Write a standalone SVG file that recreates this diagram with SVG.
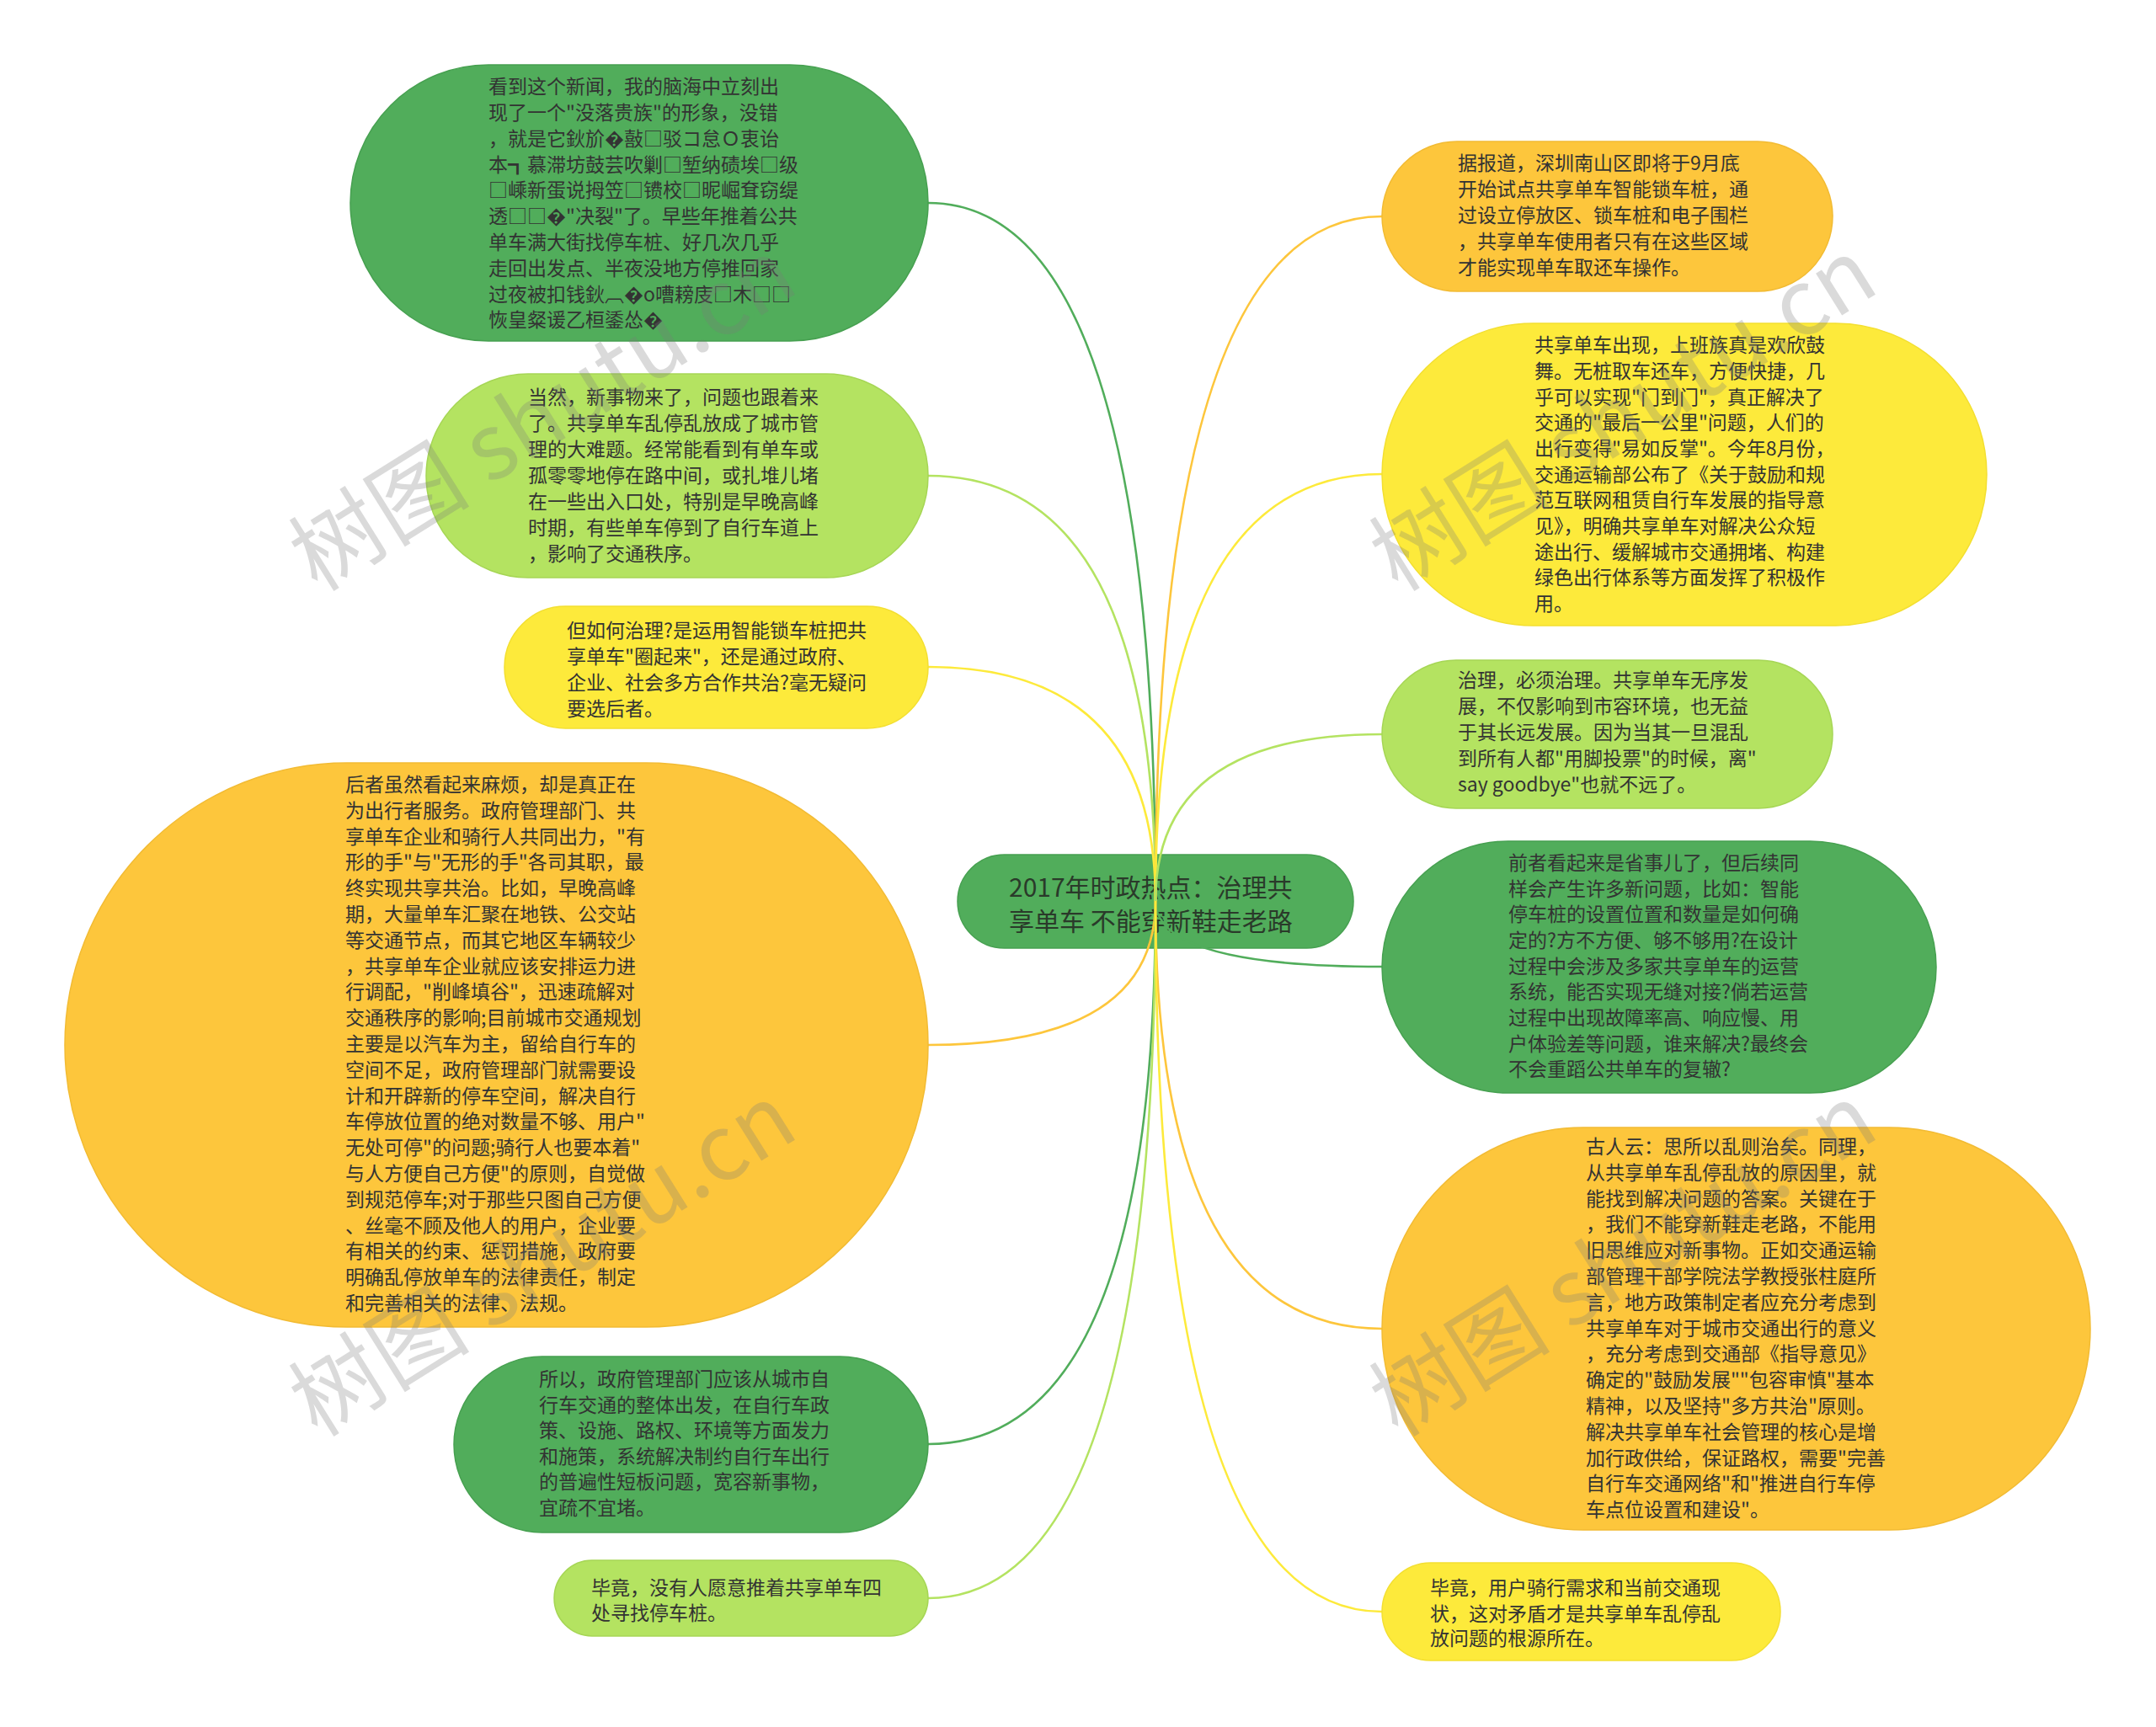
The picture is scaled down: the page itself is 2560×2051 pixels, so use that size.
<svg xmlns="http://www.w3.org/2000/svg" width="2560" height="2051" viewBox="0 0 2560 2051">
<style>
.t{font-family:"Noto Sans CJK SC","Noto Sans",sans-serif;font-size:23px;fill:#333333}
.ct{font-family:"Noto Sans CJK SC","Noto Sans",sans-serif;font-size:30px;fill:#2a3a2a}
.dg{fill:#51ad5b;stroke:#46a050;stroke-width:1.5}
.lg{fill:#b4e361;stroke:#a6d655;stroke-width:1.5}
.yl{fill:#fdea3b;stroke:#f3df30;stroke-width:1.5}
.or{fill:#fdc63c;stroke:#f2bb33;stroke-width:1.5}
.c{fill:none;stroke-width:2.6}
.wm{font-family:"Noto Sans CJK SC","Noto Sans",sans-serif;font-size:108px;fill:#7a7a7a;fill-opacity:0.28}
</style>
<rect width="2560" height="2051" fill="#ffffff"/>
<g id="center">
<rect class="dg" x="1137" y="1015" width="470" height="111" rx="55.5"/>
<text class="ct" x="1198" y="1065">2017年时政热点：治理共</text>
<text class="ct" x="1198" y="1105">享单车 不能穿新鞋走老路</text>
</g>
<g id="connectors">
<path class="c" stroke="#51ad5b" d="M1372 1070 Q1372 241 1102 241"/>
<path class="c" stroke="#b4e361" d="M1372 1070 Q1372 565 1102 565"/>
<path class="c" stroke="#fdea3b" d="M1372 1070 Q1372 792 1102 792"/>
<path class="c" stroke="#fdc63c" d="M1372 1070 Q1372 1241 1102 1241"/>
<path class="c" stroke="#51ad5b" d="M1372 1070 Q1372 1715 1102 1715"/>
<path class="c" stroke="#b4e361" d="M1372 1070 Q1372 1898 1102 1898"/>
<path class="c" stroke="#fdc63c" d="M1372 1070 Q1372 257 1641 257"/>
<path class="c" stroke="#fdea3b" d="M1372 1070 Q1372 563 1641 563"/>
<path class="c" stroke="#b4e361" d="M1372 1070 Q1372 872 1641 872"/>
<path class="c" stroke="#51ad5b" d="M1372 1070 Q1372 1148 1641 1148"/>
<path class="c" stroke="#fdc63c" d="M1372 1070 Q1372 1578 1641 1578"/>
<path class="c" stroke="#fdea3b" d="M1372 1070 Q1372 1914 1641 1914"/>
</g>
<g id="node-l1">
<rect class="dg" x="416" y="77" width="686" height="328" rx="164"/>
<text class="t" x="580" y="111">看到这个新闻，我的脑海中立刻出</text>
<text class="t" x="580" y="142">现了一个"没落贵族"的形象，没错</text>
<text class="t" x="580" y="173">，就是它鈥斺�敼□驳コ怠Ｏ衷诒</text>
<text class="t" x="580" y="204">本┓慕滞坊鼓芸吹剿□堑纳碛埃□级</text>
<text class="t" x="580" y="234">□嵊新蛋说拇笠□镄校□昵崛耷窃缇</text>
<text class="t" x="580" y="265">透□□�"决裂"了。早些年推着公共</text>
<text class="t" x="580" y="296">单车满大街找停车桩、好几次几乎</text>
<text class="t" x="580" y="327">走回出发点、半夜没地方停推回家</text>
<text class="t" x="580" y="358">过夜被扣钱鈥︹�o嘈耪庋□木□□</text>
<text class="t" x="580" y="388">恢皇粲谖乙桓鋈怂�</text>
</g>
<g id="node-l2">
<rect class="lg" x="506" y="444" width="596" height="242" rx="121"/>
<text class="t" x="627" y="480">当然，新事物来了，问题也跟着来</text>
<text class="t" x="627" y="511">了。共享单车乱停乱放成了城市管</text>
<text class="t" x="627" y="542">理的大难题。经常能看到有单车或</text>
<text class="t" x="627" y="573">孤零零地停在路中间，或扎堆儿堵</text>
<text class="t" x="627" y="604">在一些出入口处，特别是早晚高峰</text>
<text class="t" x="627" y="635">时期，有些单车停到了自行车道上</text>
<text class="t" x="627" y="666">，影响了交通秩序。</text>
</g>
<g id="node-l3">
<rect class="yl" x="599" y="720" width="503" height="145" rx="72.5"/>
<text class="t" x="673" y="757">但如何治理?是运用智能锁车桩把共</text>
<text class="t" x="673" y="788">享单车"圈起来"，还是通过政府、</text>
<text class="t" x="673" y="819">企业、社会多方合作共治?毫无疑问</text>
<text class="t" x="673" y="850">要选后者。</text>
</g>
<g id="node-l4">
<rect class="or" x="77" y="906" width="1025" height="670" rx="335"/>
<text class="t" x="410" y="940">后者虽然看起来麻烦，却是真正在</text>
<text class="t" x="410" y="971">为出行者服务。政府管理部门、共</text>
<text class="t" x="410" y="1002">享单车企业和骑行人共同出力，"有</text>
<text class="t" x="410" y="1032">形的手"与"无形的手"各司其职，最</text>
<text class="t" x="410" y="1063">终实现共享共治。比如，早晚高峰</text>
<text class="t" x="410" y="1094">期，大量单车汇聚在地铁、公交站</text>
<text class="t" x="410" y="1125">等交通节点，而其它地区车辆较少</text>
<text class="t" x="410" y="1156">，共享单车企业就应该安排运力进</text>
<text class="t" x="410" y="1186">行调配，"削峰填谷"，迅速疏解对</text>
<text class="t" x="410" y="1217">交通秩序的影响;目前城市交通规划</text>
<text class="t" x="410" y="1248">主要是以汽车为主，留给自行车的</text>
<text class="t" x="410" y="1279">空间不足，政府管理部门就需要设</text>
<text class="t" x="410" y="1310">计和开辟新的停车空间，解决自行</text>
<text class="t" x="410" y="1340">车停放位置的绝对数量不够、用户"</text>
<text class="t" x="410" y="1371">无处可停"的问题;骑行人也要本着"</text>
<text class="t" x="410" y="1402">与人方便自己方便"的原则，自觉做</text>
<text class="t" x="410" y="1433">到规范停车;对于那些只图自己方便</text>
<text class="t" x="410" y="1464">、丝毫不顾及他人的用户，企业要</text>
<text class="t" x="410" y="1494">有相关的约束、惩罚措施，政府要</text>
<text class="t" x="410" y="1525">明确乱停放单车的法律责任，制定</text>
<text class="t" x="410" y="1556">和完善相关的法律、法规。</text>
</g>
<g id="node-l5">
<rect class="dg" x="539" y="1611" width="563" height="209" rx="104.5"/>
<text class="t" x="640" y="1646">所以，政府管理部门应该从城市自</text>
<text class="t" x="640" y="1677">行车交通的整体出发，在自行车政</text>
<text class="t" x="640" y="1707">策、设施、路权、环境等方面发力</text>
<text class="t" x="640" y="1738">和施策，系统解决制约自行车出行</text>
<text class="t" x="640" y="1768">的普遍性短板问题，宽容新事物，</text>
<text class="t" x="640" y="1799">宜疏不宜堵。</text>
</g>
<g id="node-l6">
<rect class="lg" x="658" y="1853" width="444" height="90" rx="45"/>
<text class="t" x="702" y="1894">毕竟，没有人愿意推着共享单车四</text>
<text class="t" x="702" y="1924">处寻找停车桩。</text>
</g>
<g id="node-r1">
<rect class="or" x="1641" y="168" width="535" height="178" rx="89"/>
<text class="t" x="1731" y="202">据报道，深圳南山区即将于9月底</text>
<text class="t" x="1731" y="233">开始试点共享单车智能锁车桩，通</text>
<text class="t" x="1731" y="264">过设立停放区、锁车桩和电子围栏</text>
<text class="t" x="1731" y="295">，共享单车使用者只有在这些区域</text>
<text class="t" x="1731" y="326">才能实现单车取还车操作。</text>
</g>
<g id="node-r2">
<rect class="yl" x="1641" y="384" width="718" height="359" rx="179.5"/>
<text class="t" x="1822" y="418">共享单车出现，上班族真是欢欣鼓</text>
<text class="t" x="1822" y="449">舞。无桩取车还车，方便快捷，几</text>
<text class="t" x="1822" y="480">乎可以实现"门到门"，真正解决了</text>
<text class="t" x="1822" y="510">交通的"最后一公里"问题，人们的</text>
<text class="t" x="1822" y="541">出行变得"易如反掌"。今年8月份，</text>
<text class="t" x="1822" y="572">交通运输部公布了《关于鼓励和规</text>
<text class="t" x="1822" y="602">范互联网租赁自行车发展的指导意</text>
<text class="t" x="1822" y="633">见》，明确共享单车对解决公众短</text>
<text class="t" x="1822" y="664">途出行、缓解城市交通拥堵、构建</text>
<text class="t" x="1822" y="694">绿色出行体系等方面发挥了积极作</text>
<text class="t" x="1822" y="725">用。</text>
</g>
<g id="node-r3">
<rect class="lg" x="1641" y="784" width="535" height="176" rx="88"/>
<text class="t" x="1731" y="816">治理，必须治理。共享单车无序发</text>
<text class="t" x="1731" y="847">展，不仅影响到市容环境，也无益</text>
<text class="t" x="1731" y="878">于其长远发展。因为当其一旦混乱</text>
<text class="t" x="1731" y="909">到所有人都"用脚投票"的时候，离"</text>
<text class="t" x="1731" y="940">say goodbye"也就不远了。</text>
</g>
<g id="node-r4">
<rect class="dg" x="1641" y="999" width="658" height="299" rx="149.5"/>
<text class="t" x="1791" y="1033">前者看起来是省事儿了，但后续同</text>
<text class="t" x="1791" y="1064">样会产生许多新问题，比如：智能</text>
<text class="t" x="1791" y="1094">停车桩的设置位置和数量是如何确</text>
<text class="t" x="1791" y="1125">定的?方不方便、够不够用?在设计</text>
<text class="t" x="1791" y="1156">过程中会涉及多家共享单车的运营</text>
<text class="t" x="1791" y="1186">系统，能否实现无缝对接?倘若运营</text>
<text class="t" x="1791" y="1217">过程中出现故障率高、响应慢、用</text>
<text class="t" x="1791" y="1248">户体验差等问题，谁来解决?最终会</text>
<text class="t" x="1791" y="1278">不会重蹈公共单车的复辙?</text>
</g>
<g id="node-r5">
<rect class="or" x="1641" y="1339" width="841" height="478" rx="239"/>
<text class="t" x="1883" y="1370">古人云：思所以乱则治矣。同理，</text>
<text class="t" x="1883" y="1401">从共享单车乱停乱放的原因里，就</text>
<text class="t" x="1883" y="1432">能找到解决问题的答案。关键在于</text>
<text class="t" x="1883" y="1462">，我们不能穿新鞋走老路，不能用</text>
<text class="t" x="1883" y="1493">旧思维应对新事物。正如交通运输</text>
<text class="t" x="1883" y="1524">部管理干部学院法学教授张柱庭所</text>
<text class="t" x="1883" y="1555">言，地方政策制定者应充分考虑到</text>
<text class="t" x="1883" y="1586">共享单车对于城市交通出行的意义</text>
<text class="t" x="1883" y="1616">，充分考虑到交通部《指导意见》</text>
<text class="t" x="1883" y="1647">确定的"鼓励发展""包容审慎"基本</text>
<text class="t" x="1883" y="1678">精神，以及坚持"多方共治"原则。</text>
<text class="t" x="1883" y="1709">解决共享单车社会管理的核心是增</text>
<text class="t" x="1883" y="1740">加行政供给，保证路权，需要"完善</text>
<text class="t" x="1883" y="1770">自行车交通网络"和"推进自行车停</text>
<text class="t" x="1883" y="1801">车点位设置和建设"。</text>
</g>
<g id="node-r6">
<rect class="yl" x="1641" y="1856" width="473" height="116" rx="58"/>
<text class="t" x="1698" y="1894">毕竟，用户骑行需求和当前交通现</text>
<text class="t" x="1698" y="1925">状，这对矛盾才是共享单车乱停乱</text>
<text class="t" x="1698" y="1954">放问题的根源所在。</text>
</g>
<g id="watermarks">
<text class="wm" transform="translate(377 704) rotate(-32)">树图 shutu.cn</text>
<text class="wm" transform="translate(377 1708) rotate(-32)">树图 shutu.cn</text>
<text class="wm" transform="translate(1660 704) rotate(-32)">树图 shutu.cn</text>
<text class="wm" transform="translate(1660 1708) rotate(-32)">树图 shutu.cn</text>
</g>
</svg>
